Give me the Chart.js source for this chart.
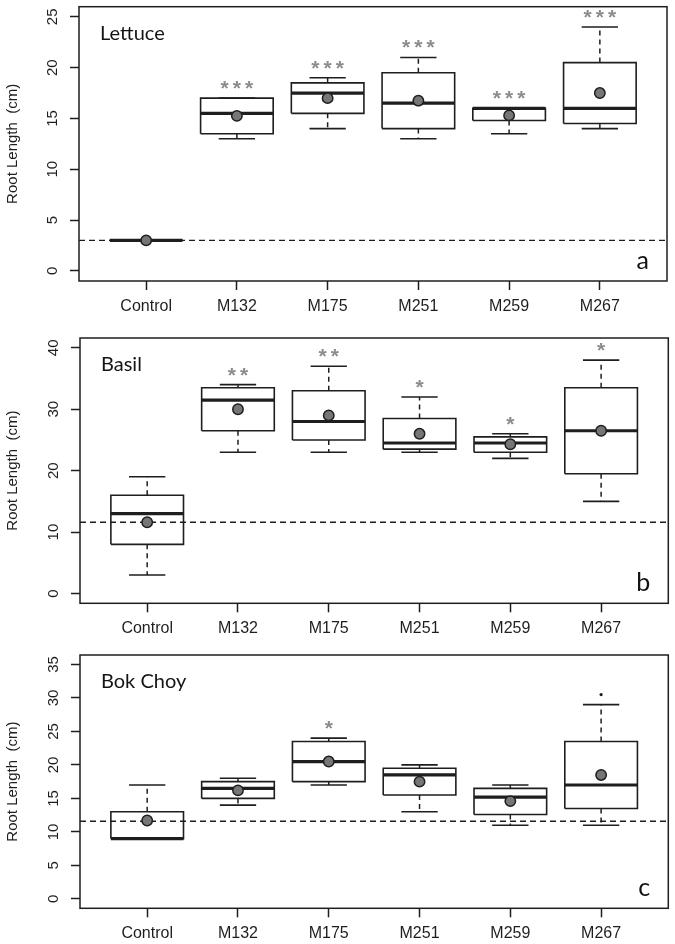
<!DOCTYPE html>
<html>
<head>
<meta charset="utf-8">
<script src="https://cdn.jsdelivr.net/npm/chart.js@4.4.1/dist/chart.umd.min.js"></script>
<style>
  html, body { margin: 0; padding: 0; background: #fff; }
  .panel { position: absolute; left: 0; width: 675px; }
  .panel canvas { display: block; }
</style>
</head>
<body>
<div class="panel" style="top:0;height:320px"><canvas id="lettuceChart"></canvas></div>
<div class="panel" style="top:320px;height:320px"><canvas id="basilChart"></canvas></div>
<div class="panel" style="top:640px;height:304px"><canvas id="bokChart"></canvas></div>
<script>
const categories = ['Control', 'M132', 'M175', 'M251', 'M259', 'M267'];

// Lettuce (a)
const lettuceLow    = [3, 13,   14,   13,    13.5, 14];
const lettuceQ1     = [3, 13.5, 15.5, 14,    14.8, 14.5];
const lettuceMedian = [3, 15.5, 17.5, 16.5,  16,   16];
const lettuceQ3     = [3, 17,   18.5, 19.5,  16,   20.5];
const lettuceHigh   = [3, 17,   19,   21,    16,   24];
const lettuceMean   = [3, 15.25, 17,  16.75, 15.3, 17.5];
const lettuceOutliers = [[], [], [], [], [], []];
const lettuceSig    = ['', '***', '***', '***', '***', '***'];
const lettuceRef    = 3;
const lettuceYTicks = [0, 5, 10, 15, 20, 25];

// Basil (b)
const basilLow    = [3,    23,   23, 23,   22,   15];
const basilQ1     = [8,    26.5, 25, 23.5, 23,   19.5];
const basilMedian = [13,   31.5, 28, 24.5, 24.5, 26.5];
const basilQ3     = [16,   33.5, 33, 28.5, 25.5, 33.5];
const basilHigh   = [19,   34,   37, 32,   26,   38];
const basilMean   = [11.6, 30,   29, 26,   24.3, 26.5];
const basilOutliers = [[], [], [], [], [], []];
const basilSig    = ['', '**', '**', '*', '*', '*'];
const basilRef    = 11.6;
const basilYTicks = [0, 10, 20, 30, 40];

// Bok Choy (c)
const bokLow    = [9,    14,   17,   13,   11,   11];
const bokQ1     = [9,    15,   17.5, 15.5, 12.6, 13.5];
const bokMedian = [9,    16.5, 20.5, 18.5, 15.2, 17];
const bokQ3     = [13,   17.5, 23.5, 19.5, 16.5, 23.5];
const bokHigh   = [17,   18,   24,   20,   17,   29];
const bokMean   = [11.7, 16.2, 20.5, 17.5, 14.6, 18.5];
const bokOutliers = [[], [], [], [], [], [30.5]];
const bokSig    = ['', '', '*', '', '', ''];
const bokRef    = 11.6;
const bokYTicks = [0, 5, 10, 15, 20, 25, 30, 35];

const INK = '#1e1e1e';
const BOX_HALF = 0.4;   // R boxwex 0.8
const CAP_HALF = 0.2;   // staple half of the box

// turn a list of polylines into one line dataset with gaps between them
function segments(lines) {
  const out = [];
  lines.forEach(line => {
    line.forEach(([x, y]) => out.push({ x, y }));
    out.push({ x: line[line.length - 1][0], y: null });
  });
  return out;
}

function lineSet(data, width, dash) {
  return {
    type: 'line', data, borderColor: INK, borderWidth: width, borderDash: dash || [],
    pointRadius: 0, fill: false, tension: 0, spanGaps: false,
    borderCapStyle: 'butt', borderJoinStyle: 'miter'
  };
}

function panelPlugin(p) {
  return {
    id: 'panelDecor',
    beforeDatasetsDraw(chart) {
      const { ctx, chartArea: a, scales: { y } } = chart;
      const yy = y.getPixelForValue(p.ref);
      ctx.save();
      ctx.strokeStyle = INK;
      ctx.lineWidth = 1.4;
      ctx.setLineDash([6, 4]);
      ctx.beginPath();
      ctx.moveTo(a.left, yy);
      ctx.lineTo(a.right, yy);
      ctx.stroke();
      ctx.restore();
    },
    afterDraw(chart) {
      const { ctx, chartArea: a, scales: { x, y } } = chart;
      ctx.save();
      // frame
      ctx.strokeStyle = INK;
      ctx.lineWidth = 1.5;
      ctx.strokeRect(a.left, a.top, a.right - a.left, a.bottom - a.top);

      // y tick labels, rotated like R's default
      ctx.fillStyle = INK;
      ctx.font = '15px "Liberation Sans", Arial, sans-serif';
      ctx.textAlign = 'center';
      ctx.textBaseline = 'middle';
      y.ticks.forEach(t => {
        ctx.save();
        ctx.translate(a.left - 26, y.getPixelForValue(t.value));
        ctx.rotate(-Math.PI / 2);
        ctx.fillText(String(t.value), 0, 0);
        ctx.restore();
      });

      // significance stars above the upper whisker
      ctx.fillStyle = '#8c8c8c';
      ctx.font = 'bold 21px "Liberation Sans", Arial, sans-serif';
      ctx.textBaseline = 'alphabetic';
      p.sig.forEach((s, i) => {
        const cx = x.getPixelForValue(i + 1);
        const cy = y.getPixelForValue(p.high[i]) - 3;
        for (let k = 0; k < s.length; k++) {
          ctx.fillText('*', cx + (k - (s.length - 1) / 2) * 12.3, cy);
        }
      });

      // panel name and letter
      ctx.fillStyle = '#141414';
      ctx.textAlign = 'left';
      ctx.font = '20px Lato, "Open Sans", sans-serif';
      ctx.fillText(p.title, a.left + 21, a.top + 33);
      ctx.textAlign = 'right';
      ctx.font = '25px Lato, "Open Sans", sans-serif';
      ctx.fillText(p.letter, a.right - 18, a.bottom - 12);
      ctx.restore();
    }
  };
}

function makePanel(canvasId, p) {
  const xs = categories.map((c, i) => i + 1);
  const boxes = xs.map((x, i) => [[x - BOX_HALF, p.q1[i]], [x + BOX_HALF, p.q1[i]],
    [x + BOX_HALF, p.q3[i]], [x - BOX_HALF, p.q3[i]], [x - BOX_HALF, p.q1[i]]]);
  const medians = xs.map((x, i) => [[x - BOX_HALF, p.median[i]], [x + BOX_HALF, p.median[i]]]);
  const whiskers = [];
  const caps = [];
  xs.forEach((x, i) => {
    whiskers.push([[x, p.q3[i]], [x, p.high[i]]], [[x, p.q1[i]], [x, p.low[i]]]);
    caps.push([[x - CAP_HALF, p.high[i]], [x + CAP_HALF, p.high[i]]],
              [[x - CAP_HALF, p.low[i]], [x + CAP_HALF, p.low[i]]]);
  });
  const outliers = [];
  p.outliers.forEach((list, i) => list.forEach(v => outliers.push({ x: i + 1, y: v })));

  new Chart(document.getElementById(canvasId), {
    type: 'line',
    data: {
      datasets: [
        {
          type: 'line', showLine: false,
          data: p.mean.map((m, i) => ({ x: i + 1, y: m })),
          pointRadius: 5.2, pointBackgroundColor: '#767676',
          pointBorderColor: INK, pointBorderWidth: 1.5
        },
        {
          type: 'line', showLine: false, data: outliers,
          pointRadius: 1.6, pointBackgroundColor: INK, pointBorderWidth: 0
        },
        lineSet(segments(medians), 3.2),
        lineSet(segments(boxes), 1.6),
        lineSet(segments(caps), 1.6),
        lineSet(segments(whiskers), 1.5, [5, 4])
      ]
    },
    options: {
      responsive: true,
      maintainAspectRatio: false,
      animation: false,
      events: [],
      layout: { padding: p.pad },
      plugins: { legend: { display: false }, tooltip: { enabled: false } },
      scales: {
        x: {
          type: 'linear', min: 0.26, max: 6.74,
          afterBuildTicks: s => { s.ticks = xs.map(v => ({ value: v })); },
          afterFit: s => { s.height = p.xHeight; },
          grid: { drawOnChartArea: false, drawTicks: true, tickLength: 9, tickWidth: 1.5, tickColor: INK },
          border: { display: false },
          ticks: {
            autoSkip: false, maxRotation: 0, minRotation: 0, padding: 7, color: INK,
            font: { family: '"Liberation Sans", Arial, sans-serif', size: 16 },
            callback: (v, i) => categories[i]
          }
        },
        y: {
          type: 'linear', min: p.yMin, max: p.yMax,
          afterBuildTicks: s => { s.ticks = p.yTicks.map(v => ({ value: v })); },
          afterFit: s => { s.width = p.yWidth; },
          grid: { drawOnChartArea: false, drawTicks: true, tickLength: 9, tickWidth: 1.5, tickColor: INK },
          border: { display: false },
          ticks: { display: false },
          title: {
            display: true, text: 'Root Length  (cm)', color: INK,
            font: { family: '"Liberation Sans", Arial, sans-serif', size: 15 },
            padding: { top: 4, bottom: 0 }
          }
        }
      }
    },
    plugins: [panelPlugin(p)]
  });
}

makePanel('lettuceChart', {
  low: lettuceLow, q1: lettuceQ1, median: lettuceMedian, q3: lettuceQ3, high: lettuceHigh,
  mean: lettuceMean, outliers: lettuceOutliers, sig: lettuceSig, ref: lettuceRef,
  yTicks: lettuceYTicks, yMin: -1, yMax: 26, title: 'Lettuce', letter: 'a',
  pad: { top: 1, right: 8, left: 0, bottom: 0 }, yWidth: 79, xHeight: 39
});

makePanel('basilChart', {
  low: basilLow, q1: basilQ1, median: basilMedian, q3: basilQ3, high: basilHigh,
  mean: basilMean, outliers: basilOutliers, sig: basilSig, ref: basilRef,
  yTicks: basilYTicks, yMin: -1.6, yMax: 41.6, title: 'Basil', letter: 'b',
  pad: { top: 18, right: 3, left: 0, bottom: 0 }, yWidth: 80, xHeight: 36.7
});

makePanel('bokChart', {
  low: bokLow, q1: bokQ1, median: bokMedian, q3: bokQ3, high: bokHigh,
  mean: bokMean, outliers: bokOutliers, sig: bokSig, ref: bokRef,
  yTicks: bokYTicks, yMin: -1.4, yMax: 36.4, title: 'Bok Choy', letter: 'c',
  pad: { top: 15, right: 4, left: 0, bottom: 0 }, yWidth: 80, xHeight: 35.7
});
</script>
</body>
</html>
